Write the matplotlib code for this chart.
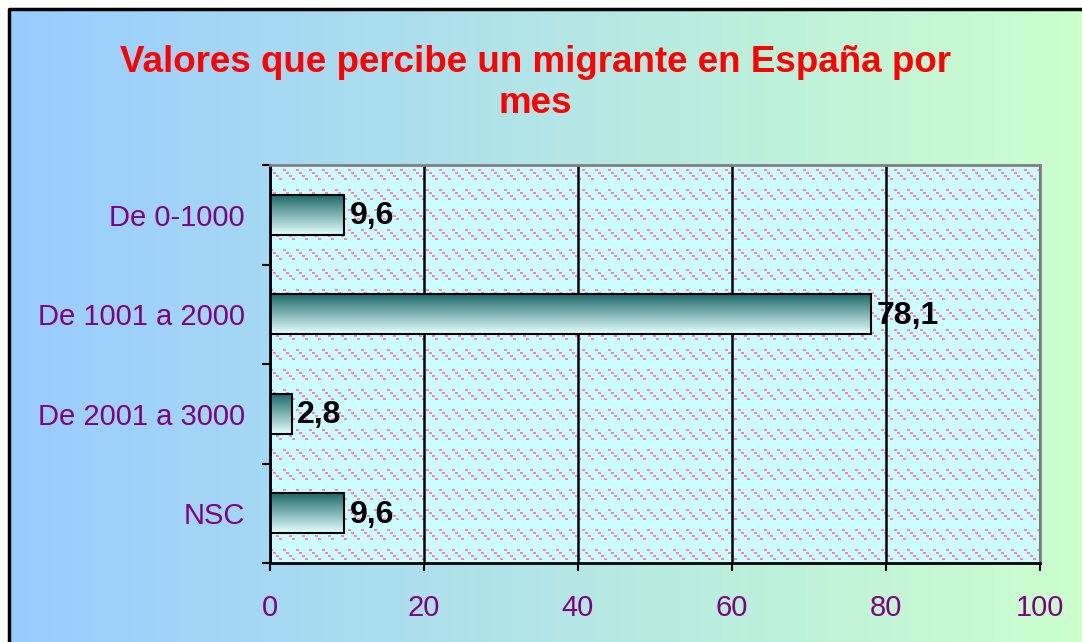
import numpy as np
import matplotlib.pyplot as plt

categories = ['De 0-1000', 'De 1001 a 2000', 'De 2001 a 3000', 'NSC']
values = [9.6, 78.1, 2.8, 9.6]
value_labels = ['9,6', '78,1', '2,8', '9,6']
x_ticks = [0, 20, 40, 60, 80, 100]
title = 'Valores que percibe un migrante en España por\nmes'

plt.rcParams['font.family'] = ['Liberation Sans', 'DejaVu Sans']

W, H = 1082, 642
fig = plt.figure(figsize=(W / 100, H / 100), dpi=100)

# background: horizontal gradient blue -> green, black frame top/left
bg = fig.add_axes([0, 0, 1, 1])
c1 = np.array([153, 204, 255]) / 255
c2 = np.array([204, 255, 204]) / 255
t = np.linspace(0, 1, 256)
grad = (c1[None, :] * (1 - t[:, None]) + c2[None, :] * t[:, None])[None, :, :]
bg.imshow(grad, extent=(9, W, H, 9), aspect='auto')
bg.plot([8.5, 8.5, W], [H, 8.5, 8.5], color='black', lw=2.5)
bg.set_xlim(0, W)
bg.set_ylim(H, 0)
bg.axis('off')

# plot area
ax = fig.add_axes([270 / W, 1 - 563 / H, 770 / W, 398 / H])
ax.set_xlim(0, 100)
ax.set_ylim(3.5, -0.5)

# pink staircase pattern on light cyan
ph, pw = 398, 770
pat = np.ones((ph, pw, 3)) * np.array([204, 255, 255]) / 255
pink = np.array([255, 128, 192]) / 255
yy, xx = np.mgrid[0:ph, 0:pw]
for k in range(4):
    mask = ((xx - 3 * k) % 13 < 3) & ((yy - 3 * k - 4) % 20 < 2)
    pat[mask] = pink
ax.imshow(pat, extent=(0, 100, 3.5, -0.5), aspect='auto',
          interpolation='nearest', zorder=0)

ax.set_axisbelow(True)
ax.grid(axis='x', color='black', lw=1.8)
ax.grid(axis='y', visible=False)

# bars with vertical teal gradient
bars = ax.barh(range(len(values)), values, height=0.4, facecolor='none',
               edgecolor='black', lw=1.5, zorder=3)
g = np.linspace(0, 1, 100)
dark = np.array([30, 105, 105]) / 255
light = np.array([228, 255, 255]) / 255
bgrad = (dark[None, :] * (1 - g[:, None]) + light[None, :] * g[:, None])[:, None, :]
for i, v in enumerate(values):
    ax.imshow(bgrad, extent=(0, v, i + 0.2, i - 0.2), aspect='auto',
              interpolation='bilinear', zorder=2)
    ax.annotate(value_labels[i], (v, i), xytext=(4, -1), textcoords='offset points',
                va='center', ha='left', fontsize=23, fontweight='bold',
                color='black', zorder=4)
ax.set_xlim(0, 100)
ax.set_ylim(3.5, -0.5)

ax.set_xticks(x_ticks)
ax.set_xticklabels([str(x) for x in x_ticks])
ax.set_yticks(range(len(categories)))
ax.set_yticklabels(categories)
ax.set_yticks([-0.5, 0.5, 1.5, 2.5, 3.5], minor=True)
ax.tick_params(axis='x', colors='black', labelcolor='#800080', labelsize=21,
               length=6, width=1.5, pad=16)
ax.tick_params(axis='y', which='major', length=0, labelcolor='#800080',
               labelsize=21, pad=18)
ax.tick_params(axis='y', which='minor', length=6, width=1.5, color='black')

for s in ['left', 'bottom']:
    ax.spines[s].set_color('black')
    ax.spines[s].set_linewidth(2)
for s in ['top', 'right']:
    ax.spines[s].set_color('#808080')
    ax.spines[s].set_linewidth(2)

fig.text(535 / W, 1 - 83 / H, title, ha='center', va='center', color='red',
         fontweight='bold', fontsize=26.5)

fig.savefig('out.png', dpi=100)
